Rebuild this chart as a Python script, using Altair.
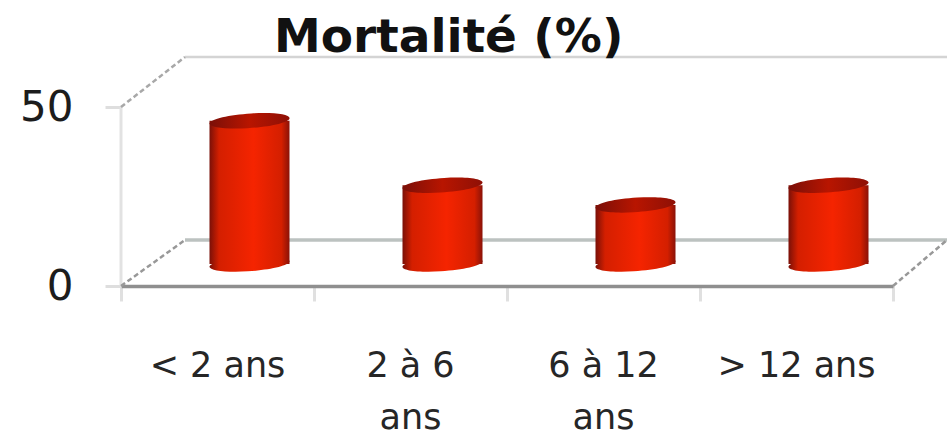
import altair as alt
import pandas as pd

# Mortality rate by age group
categories = ["< 2 ans", "2 à 6\nans", "6 à 12\nans", "> 12 ans"]
mortality = [40, 22, 16.5, 22]
slots = [0.5, 1.5, 2.5, 3.5]

FONT = "DejaVu Sans"
CYL_W = 80
DX, DY = 32, -22  # cylinders stand in the middle of the floor's depth

bars = pd.DataFrame({"slot": slots, "value": mortality, "zero": [0] * 4, "label": categories})

x_scale = alt.Scale(domain=[0, 4], range=[121, 893], padding=0)
y_scale = alt.Scale(domain=[0, 50], range=[286, 107])
x_axis = alt.Axis(
    values=[0, 1, 2, 3, 4], labels=False, title=None, grid=False, offset=-151,
    domainColor="#8f8f8f", domainWidth=3.5,
    tickColor="#e0e0e0", tickWidth=3, tickSize=15,
)
y_axis = alt.Axis(
    values=[0, 50], title=None, grid=False, offset=-121, domain=False,
    tickColor="#dedede", tickWidth=3, tickSize=16, labelPadding=32,
    labelFont=FONT, labelFontSize=42, labelColor="#1c1c1c",
)
x_enc = alt.X("slot:Q", scale=x_scale, axis=x_axis)
y_enc = alt.Y("value:Q", scale=y_scale, axis=y_axis)

side = alt.LinearGradient(
    gradient="linear", x1=0, x2=1, y1=0, y2=0,
    stops=[
        alt.GradientStop(color="#7a1008", offset=0),
        alt.GradientStop(color="#d41f00", offset=0.12),
        alt.GradientStop(color="#f52400", offset=0.55),
        alt.GradientStop(color="#d41f00", offset=0.9),
        alt.GradientStop(color="#8a1208", offset=1),
    ],
)
top = alt.LinearGradient(
    gradient="linear", x1=0, x2=1, y1=0, y2=0,
    stops=[
        alt.GradientStop(color="#7a0f08", offset=0),
        alt.GradientStop(color="#b81500", offset=0.5),
        alt.GradientStop(color="#8e1006", offset=1),
    ],
)
# Slightly tilted ellipse for the cylinder ends
ELLIPSE = "M-1,0.06 A1,0.18 -4 1 1 1,-0.06 A1,0.18 -4 1 1 -1,0.06 Z"


def segment(x, x2, y, y2, color, width, dash=None):
    kw = {"color": color, "strokeWidth": width}
    if dash:
        kw["strokeDash"] = dash
    return alt.Chart(bars.head(1)).mark_rule(**kw).encode(
        x=alt.value(x), x2=alt.value(x2), y=alt.value(y), y2=alt.value(y2)
    )


frame = [
    segment(121, 121, 107, 286, "#e2e2e2", 3),
    segment(185, 947, 57, 57, "#d4d4d4", 2.5),
    segment(185, 947, 240, 240, "#bcc2c0", 3.5),
    segment(121, 185, 107, 57, "#a8a8a8", 2.5, [5, 3]),
    segment(121, 185, 286, 240, "#989898", 2.5, [5, 3]),
    segment(893, 947, 286, 240, "#989898", 2.5, [5, 3]),
]

bottoms = alt.Chart(bars).mark_point(
    shape=ELLIPSE, filled=True, size=CYL_W ** 2, fill=side, opacity=1, strokeWidth=0,
    xOffset=DX, yOffset=DY,
).encode(x=x_enc, y=alt.Y("zero:Q", scale=y_scale, axis=y_axis))

bodies = alt.Chart(bars).mark_bar(
    fill=side, size=CYL_W, orient="vertical", xOffset=DX, yOffset=DY, y2Offset=DY,
).encode(x=x_enc, y=y_enc, y2="zero:Q")

tops = alt.Chart(bars).mark_point(
    shape=ELLIPSE, filled=True, size=CYL_W ** 2, fill=top, opacity=1, strokeWidth=0,
    xOffset=DX, yOffset=DY,
).encode(x=x_enc, y=y_enc)

labels = alt.Chart(bars).mark_text(
    font=FONT, fontSize=35, color="#262626", lineBreak="\n", lineHeight=52,
    baseline="alphabetic", align="center",
).encode(x=x_enc, y=alt.value(377), text="label:N")

chart = alt.layer(*frame, bottoms, bodies, tops, labels).properties(
    width=947, height=437, padding=0,
    autosize=alt.AutoSizeParams(type="none"),
    title=alt.TitleParams(
        "Mortalité (%)", font=FONT, fontSize=47, fontWeight="bold", color="#111111",
        anchor="start", frame="group", dx=274, dy=66,
    ),
).configure_view(stroke=None)

chart.save("out.html", embed_options={"renderer": "svg", "actions": False})
